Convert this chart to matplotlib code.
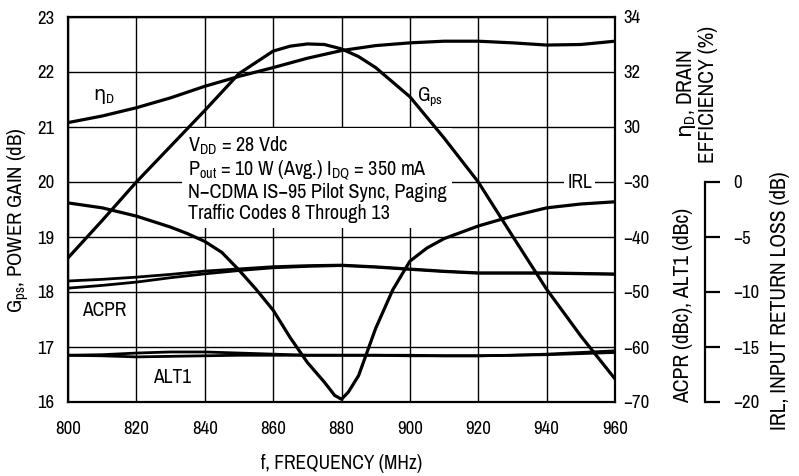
import matplotlib
matplotlib.use("Agg")
import matplotlib.pyplot as plt
from matplotlib import font_manager

# police étroite si disponible
polices = font_manager.fontManager.ttflist
etroites = sorted({f.name for f in polices
                   if "Narrow" in f.name or "Condensed" in f.name})
etirement = "normal"
if etroites:
    police = etroites[0]
else:
    cond = [f for f in polices if f.stretch in ("condensed", "semi-condensed")
            and f.name in ("DejaVu Sans", "Liberation Sans", "Roboto", "Open Sans", "Noto Sans")]
    if cond:
        police = cond[0].name
        etirement = cond[0].stretch
    else:
        police = "Liberation Sans"
plt.rcParams["font.family"] = [police, "DejaVu Sans"]
plt.rcParams["font.stretch"] = etirement
plt.rcParams["mathtext.fontset"] = "custom"
plt.rcParams["mathtext.rm"] = police
plt.rcParams["mathtext.sf"] = "DejaVu Sans"   # pour le η

# données
freq_gps = [800, 810, 820, 830, 840, 850, 860, 865, 870, 875, 880, 885, 890,
            900, 910, 920, 930, 940, 950, 960]
gps = [18.62, 19.3, 20.0, 20.65, 21.3, 21.97, 22.38, 22.47, 22.51, 22.5, 22.42,
       22.28, 22.08, 21.55, 20.8, 20.0, 19.02, 18.05, 17.2, 16.42]

freq_eff = [800, 810, 820, 830, 840, 850, 860, 870, 880, 890, 900, 910, 920,
            930, 940, 950, 960]
eff = [30.16, 30.4, 30.7, 31.06, 31.48, 31.84, 32.16, 32.5, 32.78, 32.96, 33.06,
       33.12, 33.12, 33.06, 32.98, 33.0, 33.12]

freq_irl = [800, 810, 820, 830, 835, 840, 845, 850, 855, 860, 865, 870, 875,
            878, 880, 882, 885, 890, 895, 900, 905, 910, 920, 930, 940, 950, 960]
irl = [-1.9, -2.35, -3.1, -4.1, -4.7, -5.4, -6.4, -8.0, -9.75, -11.65, -14.15,
       -16.4, -18.2, -19.4, -19.75, -19.1, -17.6, -13.3, -9.8, -7.2, -6.0, -5.15,
       -4.0, -3.1, -2.35, -2.0, -1.8]

freq_adj = [800, 810, 820, 830, 840, 850, 860, 870, 880, 890, 900, 910, 920,
            930, 940, 950, 960]
acpr_a = [-48.0, -47.7, -47.3, -46.8, -46.2, -45.8, -45.4, -45.2, -45.1, -45.4,
          -45.8, -46.2, -46.5, -46.5, -46.5, -46.6, -46.7]
acpr_b = [-49.3, -48.8, -48.2, -47.4, -46.7, -46.1, -45.6, -45.35, -45.2, -45.5,
          -45.9, -46.3, -46.6, -46.6, -46.6, -46.7, -46.8]
alt1_a = [-61.5, -61.4, -61.1, -60.9, -60.9, -61.1, -61.3, -61.5, -61.5, -61.5,
          -61.5, -61.6, -61.6, -61.5, -61.4, -61.2, -61.0]
alt1_b = [-61.5, -61.6, -61.8, -61.7, -61.6, -61.5, -61.5, -61.5, -61.5, -61.5,
          -61.6, -61.6, -61.6, -61.5, -61.3, -61.0, -60.7]

x_ticks = [800, 820, 840, 860, 880, 900, 920, 940, 960]
gps_ticks = [16, 17, 18, 19, 20, 21, 22, 23]
eff_ticks = [30, 32, 34]
acpr_ticks = [-70, -60, -50, -40, -30]
irl_ticks = [-20, -15, -10, -5, 0]

noir = "black"
ep_courbe = 2.3
taille_ticks = 13.5
taille_lab = 14
taille_vert = 15.5
if police == "Liberation Sans" and etirement == "normal":
    taille_ticks = 12
    taille_lab = 12
    taille_vert = 13

eta = "$\\mathsf{η}_\\mathregular{D}$"

fig = plt.figure(figsize=(7.99, 4.76), dpi=100)
ax = fig.add_axes([68 / 799, 74 / 476, 547 / 799, 385 / 476])

ax.set_xlim(800, 960)
ax.set_ylim(16, 23)
ax.set_xticks(x_ticks)
ax.set_yticks(gps_ticks)
ax.grid(True, color=noir, linewidth=1.0)
ax.set_axisbelow(True)
ax.tick_params(length=0, labelsize=taille_ticks, pad=10)
ax.tick_params(axis="x", pad=14)
for sp in ax.spines.values():
    sp.set_linewidth(1.6)

ax.plot(freq_gps, gps, color=noir, linewidth=ep_courbe, zorder=5)

ax.set_xlabel("f, FREQUENCY (MHz)", fontsize=taille_lab, labelpad=12)
ax.set_ylabel("G$_\\mathregular{ps}$, POWER GAIN (dB)", fontsize=15)
ax.yaxis.set_label_coords(-0.068, 0.473)

# axe efficacité (partie haute de l'axe droit)
ax_eff = ax.twinx()
ax_eff.set_ylim(20, 34)
ax_eff.set_yticks(eff_ticks)
ax_eff.plot(freq_eff, eff, color=noir, linewidth=ep_courbe)

# axe ACPR / ALT1 (partie basse de l'axe droit)
ax_acpr = ax.twinx()
ax_acpr.set_ylim(-70, 0)
ax_acpr.set_yticks(acpr_ticks)
for serie in (acpr_a, acpr_b, alt1_a, alt1_b):
    ax_acpr.plot(freq_adj, serie, color=noir, linewidth=2.0)

# axe IRL décalé
ax_irl = ax.twinx()
ax_irl.set_ylim(-20, 15)
ax_irl.set_yticks(irl_ticks)
ax_irl.plot(freq_irl, irl, color=noir, linewidth=ep_courbe)
ax_irl.spines["right"].set_position(("outward", 64.8))
ax_irl.spines["right"].set_bounds(-20, 0)
ax_irl.spines["right"].set_linewidth(1.6)
ax_irl.tick_params(axis="y", direction="out", length=11, width=1.6,
                   labelsize=taille_ticks, pad=9)

for a in (ax_eff, ax_acpr):
    a.tick_params(axis="y", length=0, labelsize=taille_ticks, pad=6)
for a in (ax_eff, ax_acpr, ax_irl):
    for cote in ("left", "top", "bottom"):
        a.spines[cote].set_visible(False)
for a in (ax_eff, ax_acpr):
    a.spines["right"].set_visible(False)

# étiquettes des courbes
ax.text(807.3, 21.55, eta, fontsize=taille_lab, va="center", zorder=6)
ax.text(902.2, 21.55, "G$_\\mathregular{ps}$", fontsize=taille_lab, va="center", zorder=6)
ax.text(804, 17.67, "ACPR", fontsize=taille_lab, va="center", zorder=6)
ax.text(825, 16.45, "ALT1", fontsize=taille_lab, va="center", zorder=6)
ax.text(946, 20.0, "IRL", fontsize=taille_lab, va="center", zorder=6,
        bbox=dict(facecolor="white", edgecolor="none", pad=2))

conditions = ("V$_\\mathregular{DD}$ = 28 Vdc\n"
              "P$_\\mathregular{out}$ = 10 W (Avg.) I$_\\mathregular{DQ}$ = 350 mA\n"
              "N\u2212CDMA IS\u221295 Pilot Sync, Paging\n"
              "Traffic Codes 8 Through 13")
ax.text(835.0, 20.86, conditions, fontsize=14.5, va="top", ha="left",
        linespacing=1.1, zorder=4,
        bbox=dict(facecolor="white", edgecolor="none", pad=4))

# titres des axes droits
fig.text(697 / 799, 1 - 94 / 476, eta + ", DRAIN\nEFFICIENCY (%)",
         rotation=90, ha="center", va="center", multialignment="center",
         fontsize=taille_vert, linespacing=1.0)
fig.text(683 / 799, 1 - 305 / 476, "ACPR (dBc), ALT1 (dBc)", rotation=90,
         ha="center", va="center", fontsize=taille_vert)
fig.text(780 / 799, 1 - 301 / 476, "IRL, INPUT RETURN LOSS (dB)", rotation=90,
         ha="center", va="center", fontsize=taille_vert)

fig.savefig("out.png", dpi=100)
